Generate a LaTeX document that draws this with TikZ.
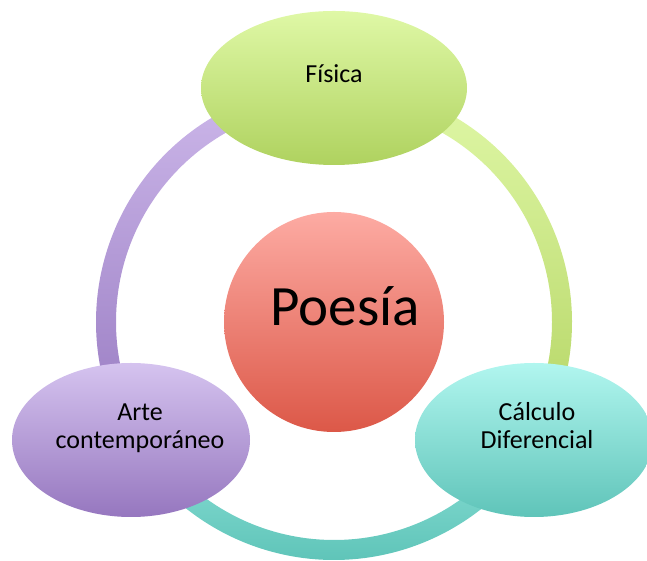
\documentclass[tikz,border=0pt]{standalone}
\usepackage{fontspec}
\setmainfont{Carlito}
\usetikzlibrary{shapes.geometric}
\definecolor{fisTop}{HTML}{DFF8A6}
\definecolor{fisBot}{HTML}{AFD25F}
\definecolor{arteTop}{HTML}{D5C3EF}
\definecolor{arteBot}{HTML}{9677BF}
\definecolor{calTop}{HTML}{B1F6EF}
\definecolor{calBot}{HTML}{5FC4B9}
\definecolor{poeTop}{HTML}{FDABA3}
\definecolor{poeBot}{HTML}{DC5848}
\definecolor{ringLTop}{HTML}{CDB8EA}
\definecolor{ringLBot}{HTML}{9A7DC3}
\definecolor{ringRTop}{HTML}{E0F8A8}
\definecolor{ringRBot}{HTML}{B6D666}
\definecolor{ringBTop}{HTML}{8ADFD6}
\definecolor{ringBBot}{HTML}{5DC3B7}
\begin{document}
\begin{tikzpicture}[x=1pt,y=1pt,
  bubble/.style={ellipse, inner sep=0pt, minimum width=238pt, minimum height=154pt},
  lbl/.style={font=\fontsize{26}{28.5}\selectfont, align=center, inner sep=0pt, text=black}]
\useasboundingbox (0,0) rectangle (647,561);
\clip (0,0) rectangle (647,561);
\coordinate (c) at (334,239);
% ring segments
\shade[top color=ringLTop, bottom color=ringLBot]
  ([shift={(95:238)}]c) arc[start angle=95, end angle=205, radius=238]
  -- ([shift={(205:218)}]c) arc[start angle=205, end angle=95, radius=218] -- cycle;
\shade[top color=ringBTop, bottom color=ringBBot]
  ([shift={(215:238)}]c) arc[start angle=215, end angle=325, radius=238]
  -- ([shift={(325:218)}]c) arc[start angle=325, end angle=215, radius=218] -- cycle;
\shade[top color=ringRTop, bottom color=ringRBot]
  ([shift={(-25:238)}]c) arc[start angle=-25, end angle=85, radius=238]
  -- ([shift={(85:218)}]c) arc[start angle=85, end angle=-25, radius=218] -- cycle;
% bubbles
\node[bubble, minimum width=266pt, top color=fisTop, bottom color=fisBot] (fis) at (334,473) {};
\node[bubble, top color=arteTop, bottom color=arteBot] (arte) at (131,121) {};
\node[bubble, top color=calTop, bottom color=calBot] (cal) at (534,121) {};
\node[circle, inner sep=0pt, minimum size=220pt, top color=poeTop, bottom color=poeBot] (poe) at (c) {};
% labels
\node[lbl, anchor=base] (fistxt) at (334,478) {Física};
\node[lbl] (artetxt) at (140,132.8) {Arte\\contemporáneo};
\node[lbl] (caltxt) at (537,135.5) {Cálculo\\Diferencial};
\node[lbl, font=\fontsize{57}{60}\selectfont, anchor=base] (poetxt) at (345,235) {Poesía};
\end{tikzpicture}
\end{document}
